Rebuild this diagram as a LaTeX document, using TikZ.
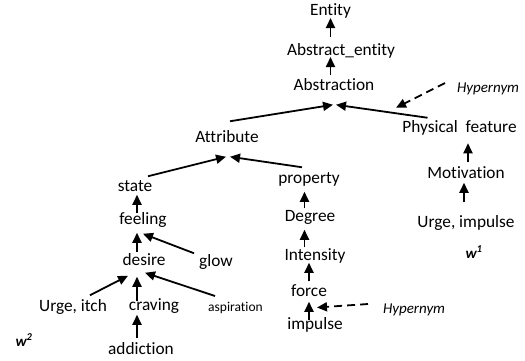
\documentclass[tikz,border=0pt]{standalone}
\usepackage{fontspec}
\setmainfont{Carlito}[Ligatures=NoCommon]
\usetikzlibrary{arrows.meta,calc}
\begin{document}
\begin{tikzpicture}[x=1pt,y=-1pt,
  lbl/.style={inner sep=0pt, outer sep=0pt, text height=11.5pt, text depth=0pt, font=\fontsize{17.3}{20}\selectfont},
  smalllbl/.style={inner sep=0pt, outer sep=0pt, text height=9pt, text depth=0pt, font=\fontsize{13.5}{16}\selectfont},
  hyp/.style={inner sep=0pt, outer sep=0pt, text height=10pt, text depth=0pt, font=\fontsize{15}{18}\selectfont\itshape},
  wlbl/.style={inner sep=0pt, outer sep=0pt, font=\fontsize{15}{18}\selectfont\bfseries\itshape},
  arr/.style={line width=1.8pt, -{Triangle[length=10pt,width=9pt]}},
  dsh/.style={arr, dash pattern=on 8pt off 5pt},
]
\useasboundingbox (0,0) rectangle (525,360);

% nodes
\node[lbl] (ent)   at (330.5,9.25) {Entity};
\node[lbl] (abse)  at (341,49.25) {Abstract\_entity};
\node[lbl] (abst)  at (334,85) {Abstraction};
\node[lbl] (attr)  at (227,137) {Attribute};
\node[lbl] (phys)  at (459.5,126.5) {Physical\ \ feature};
\node[lbl] (motiv) at (466,173) {Motivation};
\node[lbl] (urge1) at (466,222) {Urge, impulse};
\node[wlbl] (w1)   at (474,252) {w\textsuperscript{1}};
\node[lbl] (state) at (135,186) {state};
\node[lbl] (feel)  at (143,219) {feeling};
\node[lbl] (glow)  at (216,261) {glow};
\node[lbl] (desire) at (144,260) {desire};
\node[lbl] (itch)  at (73,306) {Urge, itch};
\node[lbl] (crav)  at (154,305) {craving};
\node[smalllbl] (asp) at (235.5,306.5) {aspiration};
\node[lbl] (addic) at (141,349) {addiction};
\node[wlbl] (w2)   at (24,340) {w\textsuperscript{2}};
\node[lbl] (prop)  at (309,178) {property};
\node[lbl] (deg)   at (310,216) {Degree};
\node[lbl] (int)   at (315,255) {Intensity};
\node[lbl] (force) at (309,291) {force};
\node[lbl] (imp)   at (315,324) {impulse};
\node[hyp, anchor=west] (hyp1) at (457,87) {Hypernym};
\node[hyp, anchor=west] (hyp2) at (383,308) {Hypernym};

% vertical arrows
\draw[arr, shorten >=3pt, shorten <=6.5pt] (abse.north -| ent) -- (ent.south);
\draw[arr, shorten >=2pt, shorten <=4pt] (abst.north -| ent) -- (abse.south -| ent);
\draw[arr, shorten >=3pt, shorten <=0pt] ([xshift=2pt]state.south |- feel.north) -- ([xshift=2pt]state.south);
\draw[arr, shorten >=8pt, shorten <=2pt] ([xshift=2pt]state.south |- desire.north) -- ([xshift=2pt]state.south |- feel.south);
\draw[arr, shorten >=11pt, shorten <=-2pt] ([xshift=2pt]state.south |- crav.north) -- ([xshift=2pt]state.south |- desire.south);
\draw[arr, shorten >=4pt, shorten <=5pt] ([xshift=2pt]state.south |- addic.north) -- ([xshift=2pt]state.south |- crav.south);
\draw[arr, shorten >=8pt, shorten <=2pt] ([xshift=-4.5pt]prop.south |- deg.north) -- ([xshift=-4.5pt]prop.south);
\draw[arr, shorten >=8pt, shorten <=2pt] ([xshift=-4.5pt]prop.south |- int.north) -- ([xshift=-4.5pt]prop.south |- deg.south);
\draw[arr, shorten >=2pt, shorten <=4pt] (force.north) -- (force.north |- int.south);
\draw[arr, shorten >=5pt, shorten <=-2pt] (force.south |- imp.north) -- (force.south);
\draw[arr, shorten >=11pt, shorten <=5pt] ([xshift=2pt]motiv.north) -- ([xshift=2pt]motiv.north |- phys.south);
\draw[arr, shorten >=4pt, shorten <=14pt] ([xshift=-2pt]motiv.south |- urge1.north) -- ([xshift=-2pt]motiv.south);

% slanted arrows
\draw[arr] ($(attr.north)+(3,-10)$) -- ($(abst.south)+(-1,14)$);
\draw[arr] ($(phys.north)+(-32,-3)$) -- ($(abst.south)+(2,14)$);
\draw[arr] ($(state.north)+(13,-4)$) -- ($(attr.south)+(-1,14)$);
\draw[arr] ($(prop.north)+(-7,-5)$) -- ($(attr.south)+(3,14)$);
\draw[arr] ($(glow.north)+(-22,-2)$) -- ($(feel.south)+(0,9)$);
\draw[arr] ($(itch.north)+(17,-5)$) -- ($(desire.south)+(-16,10)$);
\draw[arr] ($(asp.north)+(-20.5,-6)$) -- ($(desire.south)+(1,7)$);

% dashed hypernym arrows
\draw[dsh] ($(hyp1.west)+(-12,-4)$) -- ($(abst.south)+(62,17)$);
\draw[dsh] ($(hyp2.west)+(-15,-4)$) -- ($(force.south)!0.5!(imp.north)+(5,0)$);
\end{tikzpicture}
\end{document}
